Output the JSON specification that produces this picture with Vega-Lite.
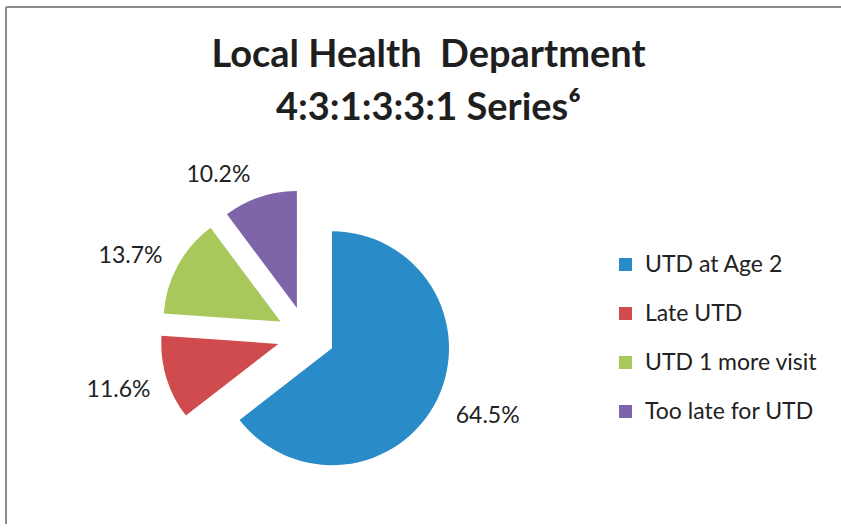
{
  "$schema": "https://vega.github.io/schema/vega-lite/v6.json",
  "width": 835,
  "height": 517,
  "autosize": {"type": "none"},
  "padding": {"left": 6, "top": 7, "right": 0, "bottom": 0},
  "background": "white",
  "config": {"view": {"stroke": null}, "font": "Lato"},
  "title": {
    "text": ["Local Health\u00a0\u00a0Department", "4:3:1:3:3:1 Series⁶"],
    "font": "Lato",
    "fontSize": 38,
    "fontWeight": "bold",
    "color": "#1f1f1f",
    "anchor": "middle",
    "frame": "group",
    "baseline": "alphabetic",
    "offset": -152,
    "dx": 5,
    "lineHeight": 53
  },
  "data": {
    "values": [
      {"category": "UTD at Age 2", "value": 64.5, "label": "64.5%", "order": 1},
      {"category": "Late UTD", "value": 11.6, "label": "11.6%", "order": 2},
      {"category": "UTD 1 more visit", "value": 13.7, "label": "13.7%", "order": 3},
      {"category": "Too late for UTD", "value": 10.2, "label": "10.2%", "order": 4}
    ]
  },
  "layer": [
    {
      "data": {"values": [{}]},
      "mark": {"type": "rule", "stroke": "#8c8c8c", "strokeWidth": 2},
      "encoding": {"y": {"value": 0}}
    },
    {
      "data": {"values": [{}]},
      "mark": {"type": "rule", "stroke": "#8c8c8c", "strokeWidth": 2},
      "encoding": {"x": {"value": 0}}
    },
    {
      "transform": [
        {"stack": "value", "groupby": [], "sort": [{"field": "order", "order": "ascending"}], "as": ["v0", "v1"]},
        {"filter": "datum.category === 'UTD at Age 2'"}
      ],
      "mark": {"type": "arc", "outerRadius": 117, "xOffset": -91.5, "yOffset": 82.7},
      "encoding": {
        "theta": {"field": "v0", "type": "quantitative", "scale": {"domain": [0, 100]}},
        "theta2": {"field": "v1"},
        "color": {
          "field": "category", "type": "nominal",
          "scale": {"domain": ["UTD at Age 2", "Late UTD", "UTD 1 more visit", "Too late for UTD"], "range": ["#2A8BC9", "#D04B4D", "#A8C85C", "#7E64A9"]},
          "legend": {"orient": "none", "legendX": 608, "legendY": 246, "title": null, "symbolType": "square", "symbolSize": 169, "symbolStrokeWidth": 0, "symbolOpacity": 1, "labelFont": "Lato", "labelFontSize": 23, "labelColor": "#222222", "labelLimit": 400, "rowPadding": 25, "labelOffset": 8, "padding": 0}
        }
      }
    },
    {
      "transform": [
        {"stack": "value", "groupby": [], "sort": [{"field": "order", "order": "ascending"}], "as": ["v0", "v1"]},
        {"filter": "datum.category === 'Late UTD'"}
      ],
      "mark": {"type": "arc", "outerRadius": 117, "xOffset": -145.2, "yOffset": 78.4},
      "encoding": {
        "theta": {"field": "v0", "type": "quantitative", "scale": {"domain": [0, 100]}},
        "theta2": {"field": "v1"},
        "color": {"field": "category", "type": "nominal"}
      }
    },
    {
      "transform": [
        {"stack": "value", "groupby": [], "sort": [{"field": "order", "order": "ascending"}], "as": ["v0", "v1"]},
        {"filter": "datum.category === 'UTD 1 more visit'"}
      ],
      "mark": {"type": "arc", "outerRadius": 117, "xOffset": -143, "yOffset": 56.1},
      "encoding": {
        "theta": {"field": "v0", "type": "quantitative", "scale": {"domain": [0, 100]}},
        "theta2": {"field": "v1"},
        "color": {"field": "category", "type": "nominal"}
      }
    },
    {
      "transform": [
        {"stack": "value", "groupby": [], "sort": [{"field": "order", "order": "ascending"}], "as": ["v0", "v1"]},
        {"filter": "datum.category === 'Too late for UTD'"}
      ],
      "mark": {"type": "arc", "outerRadius": 117, "xOffset": -126.6, "yOffset": 42.5},
      "encoding": {
        "theta": {"field": "v0", "type": "quantitative", "scale": {"domain": [0, 100]}},
        "theta2": {"field": "v1"},
        "color": {"field": "category", "type": "nominal"}
      }
    },
    {
      "mark": {"type": "text", "radius": 170, "xOffset": -91.5, "yOffset": 82.7, "dx": 3, "dy": -7, "font": "Lato", "fontSize": 23, "color": "#222222", "align": "center", "baseline": "middle"},
      "encoding": {
        "theta": {"field": "value", "type": "quantitative", "stack": true, "scale": {"domain": [0, 100]}},
        "order": {"field": "order", "type": "quantitative"},
        "detail": {"field": "category"},
        "text": {"condition": {"test": "datum.category === 'UTD at Age 2'", "field": "label"}, "value": ""}
      }
    },
    {
      "mark": {"type": "text", "radius": 166, "xOffset": -145.2, "yOffset": 78.4, "dx": -1, "dy": -2, "font": "Lato", "fontSize": 23, "color": "#222222", "align": "center", "baseline": "middle"},
      "encoding": {
        "theta": {"field": "value", "type": "quantitative", "stack": true, "scale": {"domain": [0, 100]}},
        "order": {"field": "order", "type": "quantitative"},
        "detail": {"field": "category"},
        "text": {"condition": {"test": "datum.category === 'Late UTD'", "field": "label"}, "value": ""}
      }
    },
    {
      "mark": {"type": "text", "radius": 164, "xOffset": -143, "yOffset": 56.1, "dx": -6, "dy": 13, "font": "Lato", "fontSize": 23, "color": "#222222", "align": "center", "baseline": "middle"},
      "encoding": {
        "theta": {"field": "value", "type": "quantitative", "stack": true, "scale": {"domain": [0, 100]}},
        "order": {"field": "order", "type": "quantitative"},
        "detail": {"field": "category"},
        "text": {"condition": {"test": "datum.category === 'UTD 1 more visit'", "field": "label"}, "value": ""}
      }
    },
    {
      "mark": {"type": "text", "radius": 154, "xOffset": -126.6, "yOffset": 42.5, "dx": -30, "dy": 13.5, "font": "Lato", "fontSize": 23, "color": "#222222", "align": "center", "baseline": "middle"},
      "encoding": {
        "theta": {"field": "value", "type": "quantitative", "stack": true, "scale": {"domain": [0, 100]}},
        "order": {"field": "order", "type": "quantitative"},
        "detail": {"field": "category"},
        "text": {"condition": {"test": "datum.category === 'Too late for UTD'", "field": "label"}, "value": ""}
      }
    }
  ]
}
